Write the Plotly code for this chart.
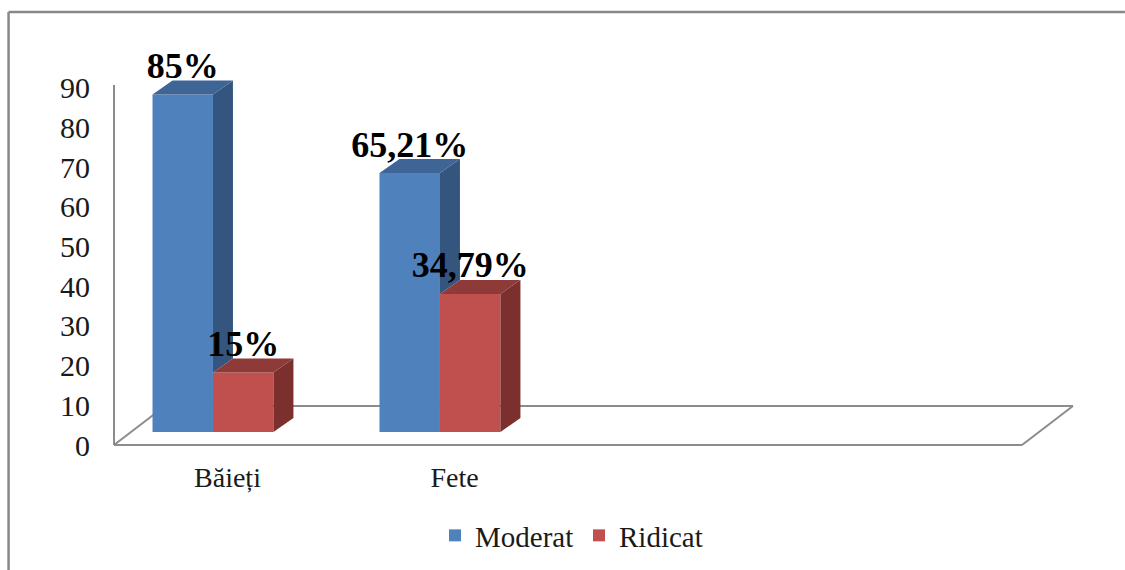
import plotly.graph_objects as go

categories = ["Băieți", "Fete"]
category_positions = [0.5, 1.5]
moderat = [85, 65.21]
ridicat = [15, 34.79]
moderat_labels = ["85%", "65,21%"]
ridicat_labels = ["15%", "34,79%"]
y_ticks = [0, 10, 20, 30, 40, 50, 60, 70, 80, 90]

# Layout in pixels of the 1125x570 page
W, H = 1125, 570
L, R, T, B = 113.5, 1022, 30, 445
X_UNITS = 4          # four category slots, two used
PX_PER_UNIT = 3.97
AXIS_TOP_PX = 85
Y_MAX = (B - T) / PX_PER_UNIT
px_x = (R - L) / X_UNITS
px_y = PX_PER_UNIT

bar_w = 60.5 / px_x
group_shift = -0.064    # group centre relative to its category tick
base = 13 / px_y        # front of the bars sits above the front of the floor
depth_x = 20 / px_x
depth_y = 14 / px_y
label_gap = 25.5 / px_y

BLUE, BLUE_SIDE, BLUE_TOP = "#4F81BD", "#34557E", "#3E6595"
RED, RED_SIDE, RED_TOP = "#C0504D", "#7B302E", "#8E3A38"
GRID = "#8C8C8C"
SERIF = "Liberation Serif"
TEXT = "#1A1A1A"

centres = [c + group_shift for c in category_positions]
x_m = [c - bar_w / 2 for c in centres]
x_r = [c + bar_w / 2 for c in centres]

fig = go.Figure()
fig.add_bar(name="Moderat", x=x_m, y=moderat, base=[base] * 2, width=bar_w,
            marker=dict(color=BLUE, line=dict(width=0)))
fig.add_bar(name="Ridicat", x=x_r, y=ridicat, base=[base] * 2, width=bar_w,
            marker=dict(color=RED, line=dict(width=0)))


def poly(xs, ys, color):
    fig.add_scatter(x=xs + xs[:1], y=ys + ys[:1], mode="lines", fill="toself",
                    fillcolor=color, line=dict(width=0, color=color),
                    showlegend=False, hoverinfo="skip")


for i in range(len(categories)):
    m_top = moderat[i] + base
    r_top = ridicat[i] + base
    xm = x_m[i]
    xr = x_r[i]
    hw = bar_w / 2
    # Moderat side: only the part that rises above the Ridicat block is visible
    e = xm + hw
    poly([e, e, e + depth_x, e + depth_x],
         [r_top, m_top, m_top + depth_y, r_top + depth_y], BLUE_SIDE)
    poly([xm - hw, xm + hw, xm + hw + depth_x, xm - hw + depth_x],
         [m_top, m_top, m_top + depth_y, m_top + depth_y], BLUE_TOP)
    # Ridicat side and top
    e = xr + hw
    poly([e, e, e + depth_x, e + depth_x],
         [base, r_top, r_top + depth_y, base + depth_y], RED_SIDE)
    poly([xr - hw, xr + hw, xr + hw + depth_x, xr - hw + depth_x],
         [r_top, r_top, r_top + depth_y, r_top + depth_y], RED_TOP)

fig.add_scatter(
    x=x_m + x_r,
    y=[v + base + label_gap for v in moderat + ridicat],
    text=moderat_labels + ridicat_labels,
    mode="text", textposition="middle center",
    textfont=dict(family=SERIF, size=36, color="#000000", weight="bold"),
    showlegend=False, hoverinfo="skip",
)

# Floor of the 3D box and picture frame, in fractions of the plot area
fx = lambda p: (p - L) / (R - L)
fy = lambda p: (B - p) / (B - T)
floor_back_y = 406
floor_dx = 51
line_opts = dict(type="line", xref="paper", yref="paper", layer="below",
                 line=dict(color=GRID, width=2))
frame_opts = dict(type="line", xref="paper", yref="paper", layer="below",
                  line=dict(color="#888888", width=2.5))
shapes = [
    dict(x0=0, y0=0, x1=fx(L + floor_dx), y1=fy(floor_back_y), **line_opts),
    dict(x0=fx(L + floor_dx), y0=fy(floor_back_y), x1=fx(R + floor_dx), y1=fy(floor_back_y), **line_opts),
    dict(x0=1, y0=0, x1=fx(R + floor_dx), y1=fy(floor_back_y), **line_opts),
    dict(x0=0, y0=0, x1=1, y1=0, **line_opts),
    dict(x0=0, y0=0, x1=0, y1=fy(AXIS_TOP_PX), **line_opts),
    dict(x0=fx(8), y0=fy(H), x1=fx(8), y1=fy(12), **frame_opts),
    dict(x0=fx(8), y0=fy(12), x1=fx(W), y1=fy(12), **frame_opts),
]

fig.update_layout(
    width=W, height=H,
    margin=dict(l=L, r=W - R, t=T, b=H - B, pad=0),
    paper_bgcolor="#FFFFFF", plot_bgcolor="rgba(0,0,0,0)",
    barmode="overlay",
    font=dict(family=SERIF, size=28, color=TEXT),
    shapes=shapes,
    showlegend=True,
    legend=dict(orientation="h", xref="container", yref="container",
                x=435 / W, xanchor="left", y=1 - 510 / H, yanchor="top",
                font=dict(family=SERIF, size=29, color=TEXT),
                bgcolor="rgba(0,0,0,0)", itemwidth=30, traceorder="normal",
                entrywidth=99, entrywidthmode="pixels"),
    xaxis=dict(range=[0, X_UNITS], tickvals=category_positions, ticktext=categories,
               showgrid=False, zeroline=False, showline=False, ticks="", ticklabelstandoff=13,
               tickfont=dict(family=SERIF, size=28, color=TEXT), fixedrange=True),
    yaxis=dict(range=[0, Y_MAX], tickvals=y_ticks, showgrid=False, zeroline=False,
               showline=False, ticks="", ticklabelstandoff=23,
               tickfont=dict(family=SERIF, size=30, color=TEXT), fixedrange=True),
)

fig.write_html("out.html", config=dict(displayModeBar=False),
               post_script="document.body.style.margin='0';document.body.style.overflow='hidden';")
